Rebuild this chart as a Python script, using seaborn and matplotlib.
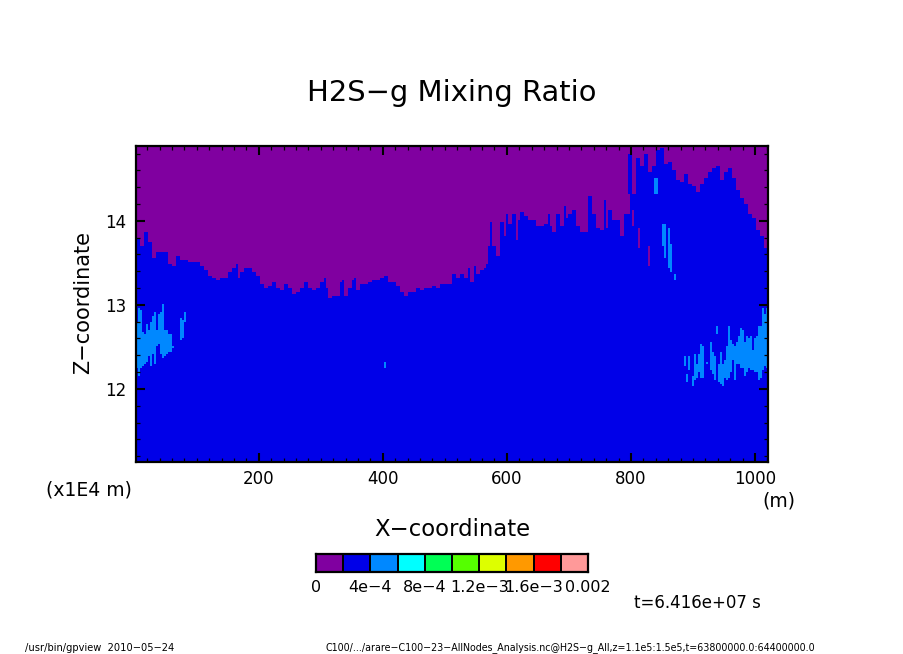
import numpy as np
import matplotlib
matplotlib.use("Agg")
import matplotlib.pyplot as plt
from matplotlib.colors import ListedColormap, BoundaryNorm
from matplotlib.ticker import FixedLocator
import seaborn as sns

TITLE = "H2S\u2212g Mixing Ratio"
XLABEL = "X\u2212coordinate"
YLABEL = "Z\u2212coordinate"
FOOT_L = "/usr/bin/gpview  2010\u221205\u221224"
FOOT_R = "C100/.../arare\u2212C100\u221223\u2212AllNodes_Analysis.nc@H2S\u2212g_All,z=1.1e5:1.5e5,t=63800000.0:64400000.0"
TIME_TEXT = "t=6.416e+07 s"

X_MIN, X_MAX = 2.0, 1021.0
Z_MIN, Z_MAX = 11.13, 14.89
N_COLS, N_ROWS = 316, 158

levels = [0, 2e-4, 4e-4, 6e-4, 8e-4, 1e-3, 1.2e-3, 1.4e-3, 1.6e-3, 1.8e-3, 2e-3]
level_labels = ["0", "4e\u22124", "8e\u22124", "1.2e\u22123", "1.6e\u22123", "0.002"]
colors = ["#8000a0", "#0000e8", "#0088ff", "#00ffff", "#00ff55",
          "#55ff00", "#ddff00", "#ff9900", "#ff0000", "#ff9999"]

BACKGROUND = 1e-4
BLUE_BAND = 3e-4
LIGHT_BAND = 5e-4

# Upper edge of the blue band, left to right, one value per 2 grid columns
top_left = [13.79, 13.71, 13.87, 13.75, 13.55, 13.63, 13.64, 13.63, 13.49, 13.47, 13.57, 13.54, 13.53,
            13.52, 13.51, 13.51, 13.47, 13.42, 13.34, 13.33, 13.29, 13.32, 13.31, 13.38, 13.44, 13.33,
            13.40, 13.45, 13.44, 13.38, 13.34, 13.25, 13.21, 13.22, 13.26, 13.21, 13.17, 13.25, 13.19,
            13.13, 13.15, 13.19, 13.27, 13.19, 13.18, 13.21, 13.27, 13.21, 13.08, 13.10, 13.10, 13.27,
            13.10, 13.19, 13.29, 13.17, 13.25, 13.25, 13.27, 13.29, 13.29, 13.31, 13.35, 13.26, 13.26,
            13.22, 13.15, 13.10, 13.15, 13.15, 13.21, 13.17, 13.19, 13.21, 13.22, 13.21, 13.25, 13.25]
top_right = [13.25, 13.37, 13.31, 13.37, 13.33, 13.27, 13.28, 13.37, 13.41, 13.49, 13.71, 13.71, 13.58,
             13.99, 13.81, 13.97, 14.07, 14.00, 14.10, 14.05, 14.00, 14.00, 13.94, 13.95, 13.96, 13.93,
             13.87, 14.07, 13.95, 14.04, 14.09, 14.13, 13.93, 13.87, 13.87, 14.29, 14.09, 13.91, 13.89,
             13.91, 14.13, 14.01, 14.01, 13.83, 14.09, 14.79, 14.31, 14.74, 14.66, 14.80, 14.58, 14.66,
             14.84, 14.86, 14.68, 14.71, 14.60, 14.48, 14.46, 14.56, 14.44, 14.41, 14.35, 14.44, 14.50,
             14.58, 14.64, 14.66, 14.48, 14.58, 14.62, 14.52, 14.37, 14.27, 14.21, 14.08, 14.03, 13.89,
             13.81, 13.67, 13.77, 13.77]

# Narrow upward spikes of the blue band
spike_x = [164, 308, 335, 355, 540, 549, 575, 600.5, 669, 693.5, 732, 757]
spike_z = [13.49, 13.33, 13.29, 13.33, 13.45, 13.47, 13.99, 14.08, 14.07, 14.17, 14.25, 14.25]

# Narrow purple gaps inside the blue band
gap_x0 = [312, 561, 578, 585, 615.5, 785, 793, 803, 812, 827]
gap_x1 = [315, 565, 580, 587, 618, 788, 797, 806, 816, 832]
gap_lo = [13.10, 13.43, 13.41, 13.47, 13.77, 13.81, 14.07, 13.95, 13.68, 13.47]
gap_hi = [13.21, 13.58, 13.63, 13.61, 14.00, 14.00, 14.31, 14.13, 13.91, 13.69]

# Light blue columns: position and vertical extent
light_x = [3.6, 6.8, 10.1, 13.3, 16.5, 19.8, 23.0, 26.2, 29.5, 32.7, 35.9, 39.2, 42.4, 45.6, 48.9, 52.1,
           55.3, 58.6, 61.8, 74.7, 78.0, 81.2,
           403.0, 840.0, 843.0, 853.0, 856.0, 860.0, 863.0, 866.0, 870.0,
           887.0, 890.2, 893.5, 899.9, 903.1, 906.4, 909.6, 912.8, 916.0, 922.5, 929.0, 932.2, 935.4,
           938.6, 941.8, 945.1, 948.3, 951.5, 954.7, 958.0, 961.2, 964.4, 967.6, 970.9, 974.1, 977.3,
           980.5, 983.8, 987.0, 990.2, 993.4, 996.7, 999.9, 1003.1, 1006.3, 1009.6, 1012.8, 1016.0, 1019.3]
light_lo = [12.24, 12.16, 12.26, 12.28, 12.30, 12.32, 12.38, 12.28, 12.42, 12.30, 12.52, 12.54, 12.42, 12.36,
            12.38, 12.42, 12.44, 12.44, 12.48, 12.58, 12.60, 12.80,
            12.25, 14.33, 14.33, 13.71, 13.55, 13.45, 13.41, 13.40, 13.29,
            12.27, 12.08, 12.22, 12.03, 12.10, 12.12, 12.20, 12.12, 12.12, 12.30, 12.22, 12.18, 12.10,
            12.66, 12.08, 12.06, 12.04, 12.12, 12.10, 12.12, 12.20, 12.34, 12.10, 12.30, 12.30, 12.26,
            12.26, 12.16, 12.20, 12.24, 12.22, 12.22, 12.20, 12.20, 12.10, 12.12, 12.22, 12.28, 12.26]
light_hi = [12.80, 12.96, 12.94, 12.68, 12.66, 12.78, 12.70, 12.80, 12.86, 12.92, 12.70, 12.88, 12.92, 13.00,
            12.70, 12.70, 12.66, 12.66, 12.52, 12.84, 12.82, 12.92,
            12.32, 14.52, 14.52, 13.97, 13.97, 13.91, 13.73, 13.69, 13.37,
            12.38, 12.18, 12.38, 12.16, 12.41, 12.30, 12.42, 12.54, 12.52, 12.31, 12.56, 12.44, 12.38,
            12.74, 12.30, 12.44, 12.30, 12.34, 12.50, 12.74, 12.58, 12.54, 12.50, 12.56, 12.62, 12.72,
            12.70, 12.56, 12.62, 12.60, 12.62, 12.46, 12.60, 12.62, 12.76, 12.76, 12.96, 12.90, 12.96]

x_major = [200, 400, 600, 800, 1000]
x_minor = list(range(20, 1021, 20))
z_major = [12, 13, 14]
z_minor = [11.2, 11.4, 11.6, 11.8, 12.2, 12.4, 12.6, 12.8, 13.2, 13.4, 13.6, 13.8, 14.2, 14.4, 14.6, 14.8]

# Grid
dx = (X_MAX - X_MIN) / N_COLS
dz = (Z_MAX - Z_MIN) / N_ROWS
col_x = X_MIN + dx * (np.arange(N_COLS) + 0.5)
row_z = Z_MAX - dz * (np.arange(N_ROWS) + 0.5)
to_col = lambda x: (np.asarray(x, float) - X_MIN) / dx
to_row = lambda z: (Z_MAX - np.asarray(z, float)) / dz

top = np.repeat(np.array(top_left + top_right), 2)
for x, z in zip(spike_x, spike_z):
    top[int(to_col(x))] = max(top[int(to_col(x))], z)

field = np.full((N_ROWS, N_COLS), BACKGROUND)
for j in range(N_COLS):
    field[row_z <= top[j], j] = BLUE_BAND
for x0, x1, lo, hi in zip(gap_x0, gap_x1, gap_lo, gap_hi):
    cols = (col_x >= x0) & (col_x <= x1)
    rows = (row_z >= lo) & (row_z <= hi)
    field[np.ix_(rows, cols)] = BACKGROUND
for x, lo, hi in zip(light_x, light_lo, light_hi):
    j = min(int(to_col(x)), N_COLS - 1)
    field[(row_z >= lo) & (row_z <= hi), j] = LIGHT_BAND

W, H = 904, 654
sns.set_theme(style="white")
plt.rcParams["font.family"] = ["DejaVu Sans"]
fig = plt.figure(figsize=(W / 100, H / 100), dpi=100, facecolor="white")


def px_axes(x0, y0, x1, y1):
    return fig.add_axes([x0 / W, 1 - y1 / H, (x1 - x0) / W, (y1 - y0) / H])


def px_text(x, y, s, **kw):
    kw.setdefault("ha", "center")
    kw.setdefault("va", "center")
    kw.setdefault("color", "black")
    fig.text(x / W, 1 - y / H, s, **kw)


cmap = ListedColormap(colors)
norm = BoundaryNorm(levels, cmap.N)

ax = px_axes(136, 146, 768, 462)
sns.heatmap(field, ax=ax, cmap=cmap, norm=norm, cbar=False, xticklabels=False, yticklabels=False)
ax.set_xlim(0, N_COLS)
ax.set_ylim(N_ROWS, 0)
ax.set_axisbelow(False)
for s in ax.spines.values():
    s.set_visible(True)
    s.set_color("black")
    s.set_linewidth(1.6)

ax.xaxis.set_major_locator(FixedLocator(to_col(x_major)))
ax.xaxis.set_minor_locator(FixedLocator(to_col(x_minor)))
ax.yaxis.set_major_locator(FixedLocator(to_row(z_major)))
ax.yaxis.set_minor_locator(FixedLocator(to_row(z_minor)))
ax.set_xticklabels([str(v) for v in x_major])
ax.set_yticklabels([str(v) for v in z_major])
ax.tick_params(axis="both", which="major", direction="in", length=6.5, width=1.5, color="black",
               top=True, right=True, bottom=True, left=True, labelsize=12, labelcolor="black")
ax.tick_params(axis="x", which="major", pad=6)
ax.tick_params(axis="y", which="major", pad=7)
ax.tick_params(axis="both", which="minor", direction="in", length=3.2, width=0.9, color="black",
               top=True, right=True, bottom=True, left=True)
plt.setp(ax.get_yticklabels(), rotation=0)

# Colour key
cax = px_axes(316, 554, 588, 572)
sns.heatmap(np.array([levels[:-1]]) + 1e-4, ax=cax, cmap=cmap, norm=norm, cbar=False,
            xticklabels=False, yticklabels=False, linewidths=1.4, linecolor="black")
for s in cax.spines.values():
    s.set_visible(True)
    s.set_color("black")
    s.set_linewidth(1.6)
cax.set_xticks(range(0, 11, 2))
cax.set_xticklabels(level_labels)
cax.tick_params(axis="x", length=0, labelsize=11.5, labelcolor="black", pad=6, bottom=True)

px_text(452, 93, TITLE, fontsize=20.9)
px_text(452, 529, XLABEL, fontsize=16.4)
px_text(83, 303, YLABEL, fontsize=15, rotation=90)
px_text(89, 490, "(x1E4 m)", fontsize=13.5)
px_text(779, 501, "(m)", fontsize=13.5)
px_text(697, 603, TIME_TEXT, fontsize=12)
px_text(25, 648, FOOT_L, fontsize=7.1, ha="left")
px_text(326, 648, FOOT_R, fontsize=6.85, ha="left")

fig.savefig("out.png", dpi=100, facecolor="white")
